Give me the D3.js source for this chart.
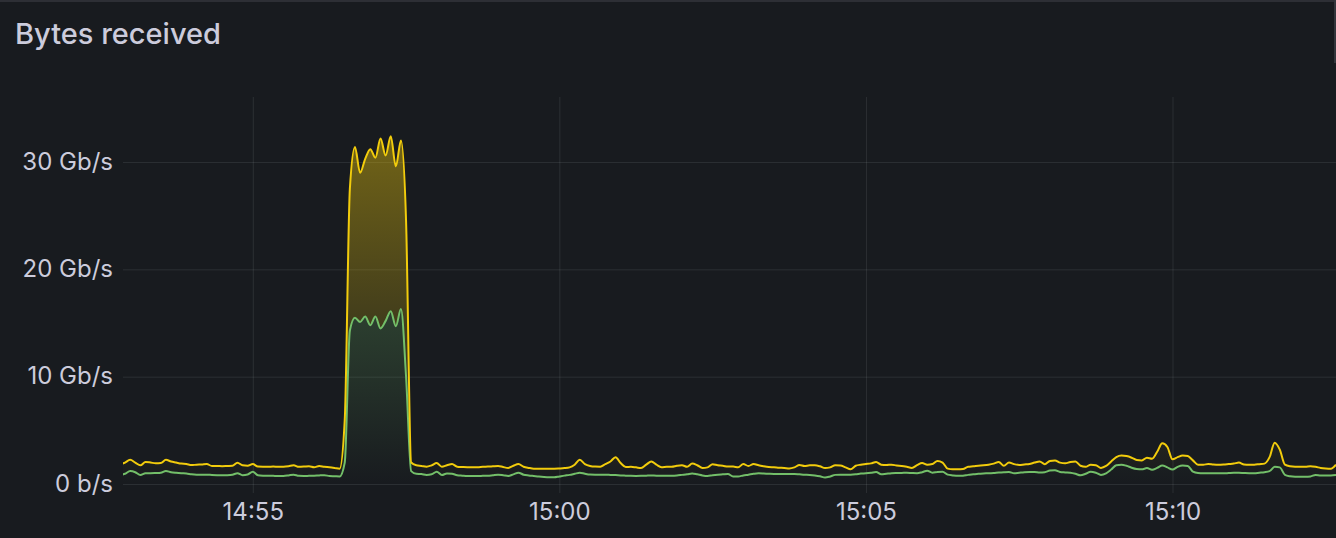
<!DOCTYPE html>
<html><head><meta charset="utf-8">
<script src="https://cdn.jsdelivr.net/npm/d3@7"></script>
<style>
html,body{margin:0;padding:0;background:#181b1f;overflow:hidden}
svg{display:block}
</style></head><body>
<svg id="chart" width="1336" height="538"></svg>
<script>
// ---------------- data ----------------
const title = "Bytes received";
const startTime = "14:52:50";   // time of first sample
const stepSeconds = 5;          // sampling interval
const viewRange = ["14:52:53", "15:12:40"];
const xTickTimes = ["14:55", "15:00", "15:05", "15:10"];
const yTickValues = [0, 10, 20, 30];
const yTickLabels = ["0 b/s", "10 Gb/s", "20 Gb/s", "30 Gb/s"];
const yMax = 36.06;

// top (stacked total) line, Gb/s
const yellowValues = [
  1.80,2.00,2.25,2.00,1.74,2.05,2.00,1.93,1.95,2.25,
  2.10,2.00,1.90,1.86,1.76,1.80,1.82,1.86,1.68,1.68,
  1.66,1.68,1.70,1.99,1.74,1.70,1.86,1.62,1.61,1.61,
  1.62,1.60,1.61,1.66,1.74,1.60,1.62,1.66,1.56,1.68,
  1.60,1.56,1.50,1.43,6.00,27.5,31.4,29.0,30.3,31.2,
  30.4,32.2,30.6,32.4,29.6,32.0,24.5,2.00,1.74,1.68,
  1.61,1.74,1.95,1.61,1.74,1.86,1.61,1.58,1.56,1.56,
  1.56,1.60,1.62,1.65,1.68,1.58,1.50,1.70,1.86,1.61,
  1.50,1.43,1.43,1.43,1.43,1.43,1.45,1.48,1.55,1.80,
  2.25,1.86,1.68,1.62,1.61,1.85,2.10,2.50,1.95,1.58,
  1.60,1.55,1.49,1.80,2.10,1.80,1.56,1.60,1.61,1.70,
  1.75,1.61,1.90,1.75,1.50,1.55,1.84,1.74,1.70,1.62,
  1.62,1.56,1.86,1.68,1.86,1.75,1.65,1.58,1.56,1.52,
  1.50,1.45,1.55,1.78,1.68,1.74,1.74,1.65,1.48,1.55,
  1.74,1.72,1.55,1.37,1.70,1.80,1.86,1.92,2.05,1.80,
  1.77,1.80,1.72,1.68,1.60,1.50,1.75,1.95,1.80,1.86,
  2.15,2.00,1.43,1.37,1.37,1.40,1.61,1.65,1.70,1.74,
  1.80,1.90,2.05,1.70,2.00,1.85,1.78,1.82,1.86,2.00,
  2.10,1.85,2.15,2.20,1.99,1.93,2.05,2.10,1.70,1.60,
  1.80,1.75,1.50,1.68,2.10,2.50,2.65,2.60,2.45,2.24,
  2.20,2.45,2.36,3.00,3.80,3.45,2.30,2.50,2.65,2.60,
  2.20,1.80,1.80,1.86,1.82,1.80,1.82,1.86,1.90,2.00,
  1.82,1.80,1.80,1.85,1.90,2.50,3.85,3.20,1.80,1.65,
  1.61,1.61,1.61,1.65,1.60,1.50,1.45,1.43,1.80
];

// lower line, Gb/s
const greenValues = [
  0.85,0.95,1.20,1.10,0.84,1.00,1.00,1.02,1.05,1.22,
  1.10,1.04,1.00,0.98,0.90,0.87,0.87,0.87,0.84,0.82,
  0.81,0.82,0.86,1.00,0.82,0.88,1.15,0.82,0.78,0.77,
  0.76,0.75,0.75,0.80,0.87,0.76,0.75,0.76,0.77,0.80,
  0.82,0.74,0.72,0.70,2.00,14.3,15.5,15.1,15.6,14.8,
  15.6,14.5,15.2,16.1,14.7,16.3,10.0,1.20,0.95,0.93,
  0.85,0.90,1.15,0.84,0.98,0.95,0.82,0.78,0.75,0.75,
  0.75,0.76,0.77,0.82,0.87,0.82,0.75,0.90,1.05,0.87,
  0.80,0.75,0.70,0.66,0.63,0.62,0.70,0.78,0.85,0.95,
  1.05,0.95,0.88,0.87,0.87,0.87,0.85,0.83,0.80,0.78,
  0.76,0.75,0.76,0.78,0.80,0.78,0.78,0.78,0.78,0.80,
  0.85,0.90,0.98,0.90,0.80,0.75,0.82,0.87,0.90,0.93,
  0.70,0.70,0.80,0.87,0.95,1.00,0.98,0.95,0.93,0.93,
  0.93,0.93,0.93,0.90,0.87,0.85,0.80,0.72,0.60,0.70,
  0.85,0.87,0.87,0.87,0.90,0.97,1.00,1.05,1.12,0.90,
  0.95,1.00,1.02,1.03,1.05,1.02,1.00,1.10,1.24,1.05,
  1.12,1.15,0.87,0.80,0.76,0.78,0.85,0.90,0.95,0.98,
  1.00,1.03,1.07,1.10,1.12,1.00,1.05,1.10,1.12,1.12,
  1.08,1.10,1.25,1.28,1.12,1.08,1.05,0.95,0.81,0.95,
  1.15,1.05,0.85,1.00,1.35,1.75,1.80,1.70,1.52,1.40,
  1.37,1.48,1.33,1.50,1.72,1.55,1.35,1.60,1.72,1.68,
  1.15,1.02,1.00,1.00,1.00,1.00,1.00,1.02,1.04,1.05,
  1.02,1.00,1.00,1.05,1.10,1.20,1.60,1.55,0.85,0.72,
  0.68,0.68,0.68,0.70,0.85,0.80,0.80,0.80,0.83
];

// ---------------- drawing ----------------
const W = 1336, H = 538;
const plot = {left: 123, right: 1336, top: 97, bottom: 484};
const day = "2024-01-01T";
const parseT = s => new Date(day + (s.length === 5 ? s + ":00" : s));
const t0 = parseT(startTime);
const times = yellowValues.map((_, i) => new Date(t0.getTime() + i * stepSeconds * 1000));
const rows = times.map((t, i) => ({t, y: yellowValues[i], g: greenValues[i]}));

const svg = d3.select("#chart");
const x = d3.scaleTime().domain(viewRange.map(parseT)).range([plot.left, plot.right]);
const y = d3.scaleLinear().domain([0, yMax]).range([plot.bottom, plot.top]);

// panel chrome
svg.append("rect").attr("width", W).attr("height", H).attr("fill", "#181b1f");
svg.append("rect").attr("x", 0).attr("y", 0).attr("width", W).attr("height", 2).attr("fill", "#2d2f35");
svg.append("rect").attr("x", 1334).attr("y", 0).attr("width", 2).attr("height", 63).attr("fill", "#33363c");

svg.append("text").attr("x", 15).attr("y", 44)
  .attr("font-family", "Inter, 'Noto Sans', sans-serif").attr("font-size", 29).attr("font-weight", 500)
  .attr("fill", "#ccccdc").text(title);

const gridColor = "rgba(240,250,255,0.09)";
const labelFont = "Inter, 'Noto Sans', sans-serif";

// y axis + horizontal grid
const yAxis = svg.append("g").attr("transform", `translate(${plot.left},0)`)
  .call(d3.axisLeft(y).tickValues(yTickValues).tickFormat((d, i) => yTickLabels[i])
        .tickSize(-(plot.right - plot.left)).tickPadding(10));
yAxis.select(".domain").remove();
yAxis.selectAll("line").attr("stroke", gridColor).attr("stroke-width", 1);
yAxis.selectAll("text").attr("fill", "#ccccdc").attr("font-family", labelFont).attr("font-size", 24).attr("dy", "0.3em");

// x axis + vertical grid
const xAxis = svg.append("g").attr("transform", `translate(0,${plot.bottom})`)
  .call(d3.axisBottom(x).tickValues(xTickTimes.map(parseT)).tickFormat(d3.timeFormat("%H:%M"))
        .tickSize(9).tickPadding(10));
xAxis.select(".domain").remove();
xAxis.selectAll("line").attr("y1", -(plot.bottom - plot.top)).attr("stroke", gridColor).attr("stroke-width", 1);
xAxis.selectAll("text").attr("fill", "#ccccdc").attr("font-family", labelFont).attr("font-size", 24);

// gradients
const defs = svg.append("defs");
function grad(id, color, op) {
  const g = defs.append("linearGradient").attr("id", id).attr("gradientUnits", "userSpaceOnUse")
    .attr("x1", 0).attr("x2", 0).attr("y1", plot.top).attr("y2", plot.bottom);
  g.append("stop").attr("offset", 0).attr("stop-color", color).attr("stop-opacity", op);
  g.append("stop").attr("offset", 1).attr("stop-color", color).attr("stop-opacity", 0);
}
const yellow = "#f2cc0c", green = "#73bf69";
grad("gy", yellow, 0.46);
grad("gg", green, 0.5);

defs.append("clipPath").attr("id", "clip").append("rect")
  .attr("x", plot.left).attr("y", plot.top - 5).attr("width", plot.right - plot.left).attr("height", plot.bottom - plot.top + 10);

const layer = svg.append("g").attr("clip-path", "url(#clip)");
const curve = d3.curveMonotoneX;

layer.append("path").datum(rows)
  .attr("d", d3.area().curve(curve).x(d => x(d.t)).y0(y(0)).y1(d => y(d.g)))
  .attr("fill", "url(#gg)");
layer.append("path").datum(rows)
  .attr("d", d3.area().curve(curve).x(d => x(d.t)).y0(d => y(d.g)).y1(d => y(d.y)))
  .attr("fill", "url(#gy)");

layer.append("path").datum(rows)
  .attr("d", d3.line().curve(curve).x(d => x(d.t)).y(d => y(d.g)))
  .attr("fill", "none").attr("stroke", green).attr("stroke-width", 2);
layer.append("path").datum(rows)
  .attr("d", d3.line().curve(curve).x(d => x(d.t)).y(d => y(d.y)))
  .attr("fill", "none").attr("stroke", yellow).attr("stroke-width", 2);
</script>
</body></html>
